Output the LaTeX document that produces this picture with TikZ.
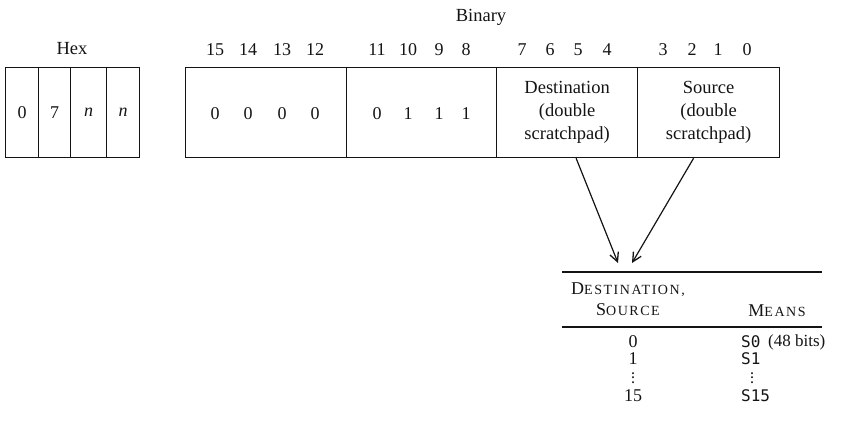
\documentclass[tikz,border=0pt]{standalone}
\usepackage{fontspec}
\setmainfont{Liberation Serif}
\newfontfamily\regfont{DejaVu Sans Mono}
\newfontfamily\capsfont[LetterSpace=11]{Liberation Serif}
\usetikzlibrary{arrows.meta,positioning,calc}
\definecolor{inkBlack}{RGB}{20, 20, 20}
\newcommand{\headcaps}[2]{{\capsfont\fontsize{18}{20}\selectfont #1\fontsize{14}{20}\selectfont #2}}
\tikzset{
  cellbox/.style={draw=inkBlack, line width=1.2pt, minimum height=90pt, inner sep=0pt, anchor=north west},
  bitnum/.style={inner sep=0pt, font=\fontsize{18}{20}\selectfont},
  capt/.style={inner sep=0pt, font=\fontsize{18.5}{23}\selectfont, align=center},
  pointer/.style={-{Straight Barb[length=9pt,width=9pt,line width=1.3pt]}, line width=1.2pt, draw=inkBlack},
  rule/.style={line width=1.2pt, draw=inkBlack},
  skipdots/.style={inner sep=0pt, align=center, font=\bfseries\fontsize{12}{4.5}\selectfont}
}
\begin{document}
\begin{tikzpicture}[x=1pt,y=-1pt,inkBlack]
  \useasboundingbox (0,0) rectangle (853,426);
  % hex word
  \node[capt] (hexlbl) at (72,49) {Hex};
  \node[cellbox, minimum width=33pt] (h0) at (5,67) {};
  \node[cellbox, minimum width=32pt] (h1) at (38,67) {};
  \node[cellbox, minimum width=36pt] (h2) at (70,67) {};
  \node[cellbox, minimum width=33pt] (h3) at (106,67) {};
  \node[bitnum] at (h0.center) {0};
  \node[bitnum] at (h1.center) {7};
  \node[bitnum] at (h2.center) {\textit{n}};
  \node[bitnum] at (h3.center) {\textit{n}};
  % binary word
  \node[capt] (binlbl) at (481,17) {Binary};
  \node[cellbox, minimum width=161pt] (opa) at (185,67) {};
  \node[cellbox, minimum width=150pt] (opb) at (346,67) {};
  \node[cellbox, minimum width=141pt] (dst) at (496,67) {};
  \node[cellbox, minimum width=142pt] (src) at (637,67) {};
  \foreach \x/\b/\v in {215/15/0, 248/14/0, 282/13/0, 315/12/0,
                        377/11/0, 408/10/1, 439/9/1, 466/8/1}{
    \node[bitnum] at (\x,50) {\b};
    \node[bitnum] at (\x,114) {\v};
  }
  \foreach \x/\b in {522/7, 550/6, 578/5, 607/4, 663/3, 692/2, 718/1, 747/0}
    \node[bitnum] at (\x,50) {\b};
  \node[capt] at (dst.center) {Destination\\(double\\scratchpad)};
  \node[capt] at (src.center) {Source\\(double\\scratchpad)};
  % table
  \coordinate (tipL) at (618,263);
  \coordinate (tipR) at (632,263);
  \draw[pointer] ([xshift=9pt]dst.south) -- (tipL);
  \draw[pointer] ([xshift=-15pt]src.south) -- (tipR);
  \coordinate (ruleA) at (562,272);
  \coordinate (ruleB) at (562,327);
  \draw[rule] (ruleA) -- ++(260,0);
  \draw[rule] (ruleB) -- ++(260,0);
  \node[capt, font=\fontsize{18}{21}\selectfont] (colA) at (628,299) {\headcaps{D}{ESTINATION,}\\\headcaps{S}{OURCE}};
  \node[capt, anchor=base] (colB) at (777,316) {\headcaps{M}{EANS}};
  \foreach \y/\n/\s in {342/0/S0, 359/1/S1, 396/15/S15}{
    \node[bitnum] at (633,\y) {\n};
    \node[bitnum, anchor=west, font=\regfont\fontsize{16}{18}\selectfont] at (741,\y) {\s};
  }
  \node[skipdots] at (633,378) {.\\.\\.};
  \node[skipdots] at (752,378) {.\\.\\.};
  \node[bitnum, anchor=west, font=\fontsize{17}{20}\selectfont] at (768,342) {(48 bits)};
\end{tikzpicture}
\end{document}
